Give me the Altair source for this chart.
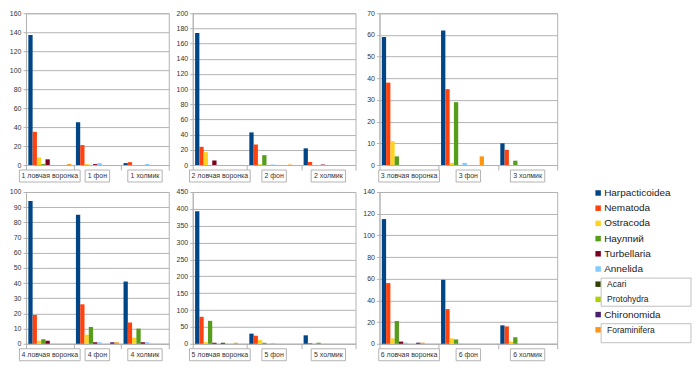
import altair as alt
import pandas as pd

series = ["Harpacticoidea", "Nematoda", "Ostracoda", "Наулпий", "Turbellaria",
          "Annelida", "Acari", "Protohydra", "Chironomida", "Foraminifera"]
colors = ["#004586", "#ff420e", "#ffd320", "#579d1c", "#7e0021",
          "#83caff", "#314004", "#aecf00", "#4b1f6f", "#ff950e"]
suffixes = ["ловчая воронка", "фон", "холмик"]

# values: [category][series]
p1 = [[137, 35, 8, 1, 6, 0, 0, 0, 0, 1],
      [45, 21, 1, 0, 1, 2, 0, 0, 0, 0],
      [2, 3, 0, 0, 0, 1, 0, 0, 0, 0]]
p2 = [[174, 24, 17, 0, 6, 0, 0, 0, 0, 0],
      [43, 27, 1, 13, 0, 0.6, 0, 0, 0, 0.6],
      [22, 4, 0, 0, 0.6, 0, 0, 0, 0, 0]]
p3 = [[59, 38, 11, 4, 0, 0, 0, 0, 0, 0],
      [62, 35, 1, 29, 0, 1, 0, 0, 0, 4],
      [10, 7, 0, 2, 0, 0, 0, 0, 0, 0]]
p4 = [[94, 19, 2, 3, 2, 0, 0, 0, 0, 0],
      [85, 26, 6, 11, 1, 1, 0, 0, 1, 1],
      [41, 14, 4, 10, 1, 1, 0, 0, 0, 0]]
p5 = [[393, 80, 5, 68, 3, 0, 3, 0, 0, 3],
      [30, 24, 11, 3, 0, 2, 0, 0, 0, 0],
      [25, 2, 0, 3, 0, 0, 0, 0, 0, 0]]
p6 = [[115, 56, 5, 21, 2, 1, 0, 0, 1, 1],
      [59, 32, 5, 4, 0, 0, 0, 0, 0, 0],
      [17, 16, 2, 6, 0, 0, 0, 0, 0, 0]]

y_max = [160, 200, 70, 100, 450, 140]
y_step = [20, 20, 10, 10, 50, 20]

FONT = "Liberation Sans"
GRID = "#b3b3b3"


def panel(n, vals, ymax, ystep, W, H):
    cats = [f"{n} {s}" for s in suffixes]
    rows = []
    for c, v in zip(cats, vals):
        for s, val in zip(series, v):
            rows.append({"cat": c, "series": s, "value": val})
    df = pd.DataFrame(rows)
    bars = alt.Chart(df).mark_bar().encode(
        x=alt.X("cat:N", sort=cats,
                scale=alt.Scale(paddingInner=0, paddingOuter=0),
                axis=alt.Axis(labels=False, title=None, tickBand="extent",
                              tickSize=5, tickColor=GRID, domainColor=GRID, grid=False)),
        xOffset=alt.XOffset("series:N", sort=series,
                            scale=alt.Scale(domain=series, paddingInner=0, paddingOuter=0.55)),
        y=alt.Y("value:Q", scale=alt.Scale(domain=[0, ymax], nice=False),
                axis=alt.Axis(values=list(range(0, ymax + 1, ystep)), title=None,
                              labelFontSize=7, labelColor="#333333", labelFont=FONT,
                              tickSize=3, tickColor=GRID, domainColor=GRID,
                              gridColor=GRID, labelPadding=2, minExtent=16)),
        color=alt.Color("series:N", scale=alt.Scale(domain=series, range=colors), legend=None),
    )
    lab = pd.DataFrame({"cat": cats, "pos": [0.5, 1.5, 2.5], "len": [len(c) for c in cats]})
    k = 3.0 / W
    xq = alt.Scale(domain=[0, 3], nice=False, zero=False)
    boxes = alt.Chart(lab).transform_calculate(
        x1=f"datum.pos - (datum.len*1.65+4)*{k}",
        x2=f"datum.pos + (datum.len*1.65+4)*{k}",
    ).mark_rect(fill="white", stroke=GRID, strokeWidth=1).encode(
        x=alt.X("x1:Q", scale=xq, axis=None),
        x2="x2:Q",
        y=alt.value(H + 5),
        y2=alt.value(H + 17),
    )
    texts = alt.Chart(lab).mark_text(fontSize=7, font=FONT, color="#333333").encode(
        x=alt.X("pos:Q", scale=xq, axis=None),
        y=alt.value(H + 11),
        text="cat:N",
    )
    return alt.layer(bars, boxes, texts).resolve_scale(x="independent").properties(
        width=W, height=H)


W1, W2, W3 = 143, 163, 178
H1, H2 = 152, 152

col1 = alt.vconcat(panel(1, p1, y_max[0], y_step[0], W1, H1),
                   panel(4, p4, y_max[3], y_step[3], W1, H2), spacing=4)
col2 = alt.vconcat(panel(2, p2, y_max[1], y_step[1], W2, H1),
                   panel(5, p5, y_max[4], y_step[4], W2, H2), spacing=4)
col3 = alt.vconcat(panel(3, p3, y_max[2], y_step[2], W3, H1),
                   panel(6, p6, y_max[5], y_step[5], W3, H2), spacing=4)

# custom legend
LW = 128
leg_df = pd.DataFrame({"series": series, "idx": list(range(len(series)))})
ys = alt.Scale(domain=[0, 9], range=[180, 317], nice=False, zero=False)
cscale = alt.Scale(domain=series, range=colors)
sq = alt.Chart(leg_df).mark_square(size=30, opacity=1).encode(
    x=alt.value(35),
    y=alt.Y("idx:Q", scale=ys, axis=None),
    color=alt.Color("series:N", scale=cscale, legend=None),
)
plain = alt.Chart(leg_df).transform_filter(
    "datum.series != 'Acari' && datum.series != 'Protohydra' && datum.series != 'Foraminifera'"
).mark_text(align="left", baseline="middle", fontSize=10, font=FONT, color="#222222").encode(
    x=alt.value(41),
    y=alt.Y("idx:Q", scale=ys, axis=None),
    text="series:N",
)
box_df = pd.DataFrame({"y1": [5.6, 8.6], "y2": [7.45, 9.85]})
lboxes = alt.Chart(box_df).mark_rect(fill="white", stroke="#c0c0c0", strokeWidth=1).encode(
    x=alt.value(38), x2=alt.value(LW),
    y=alt.Y("y1:Q", scale=ys, axis=None), y2="y2:Q",
)
boxed = alt.Chart(leg_df).transform_filter(
    "datum.series == 'Acari' || datum.series == 'Protohydra' || datum.series == 'Foraminifera'"
).mark_text(align="left", baseline="middle", fontSize=8.5, font=FONT, color="#222222").encode(
    x=alt.value(44),
    y=alt.Y("idx:Q", scale=ys, axis=None),
    text="series:N",
)
legend = alt.layer(sq, lboxes, plain, boxed).properties(
    width=LW, height=340, view=alt.ViewBackground(stroke=None))

chart = alt.hconcat(col1, col2, col3, legend, spacing=5, padding=0).configure_view(
    stroke=GRID).configure_axis(gridColor=GRID)

chart.save("out.html", embed_options={"renderer": "svg", "actions": False})
